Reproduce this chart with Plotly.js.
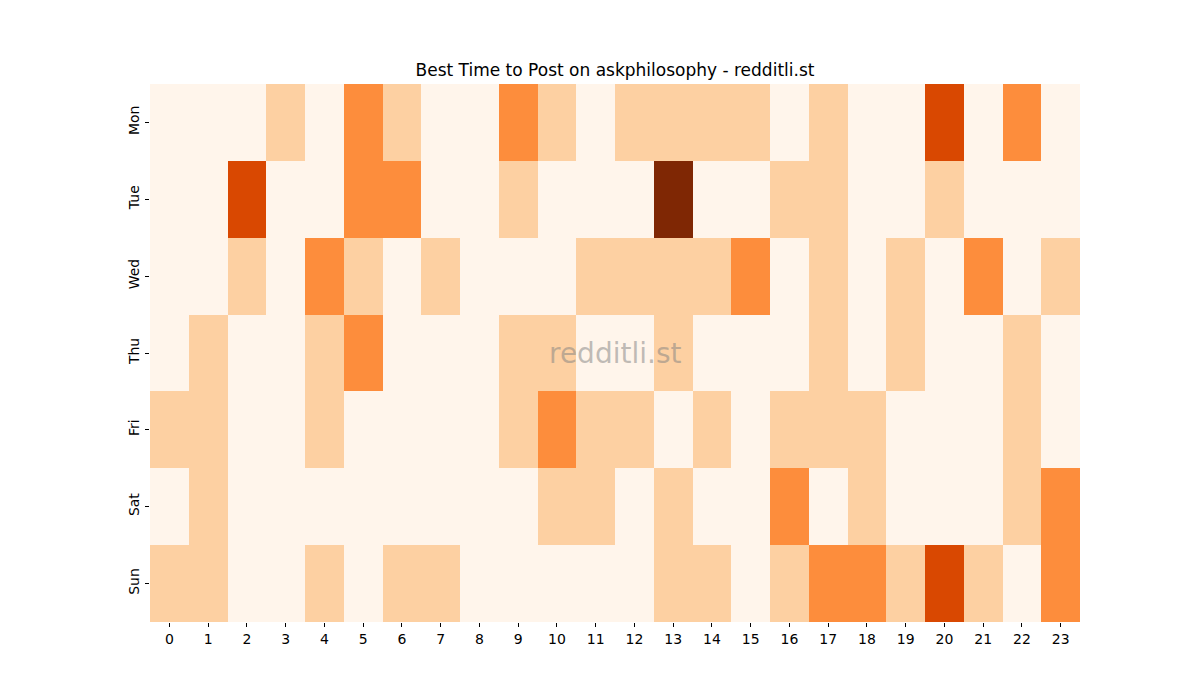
<!DOCTYPE html>
<html>
<head>
<meta charset="utf-8">
<script src="https://cdn.plot.ly/plotly-3.0.1.min.js"></script>
<style>body{margin:0;padding:0;background:#fff;}#chart{width:1200px;height:700px;}</style>
</head>
<body>
<div id="chart"></div>
<script>
const hours = [0,1,2,3,4,5,6,7,8,9,10,11,12,13,14,15,16,17,18,19,20,21,22,23];
const days = ["Mon","Tue","Wed","Thu","Fri","Sat","Sun"];
const mon = [0,0,0,1,0,2,1,0,0,2,1,0,1,1,1,1,0,1,0,0,3,0,2,0];
const tue = [0,0,3,0,0,2,2,0,0,1,0,0,0,4,0,0,1,1,0,0,1,0,0,0];
const wed = [0,0,1,0,2,1,0,1,0,0,0,1,1,1,1,2,0,1,0,1,0,2,0,1];
const thu = [0,1,0,0,1,2,0,0,0,1,1,0,0,1,0,0,0,1,0,1,0,0,1,0];
const fri = [1,1,0,0,1,0,0,0,0,1,2,1,1,0,1,0,1,1,1,0,0,0,1,0];
const sat = [0,1,0,0,0,0,0,0,0,0,1,1,0,1,0,0,2,0,1,0,0,0,1,2];
const sun = [1,1,0,0,1,0,1,1,0,0,0,0,0,1,1,0,1,2,2,1,3,1,0,2];

const z = [mon, tue, wed, thu, fri, sat, sun];

const trace = {
  type: 'heatmap',
  x: hours,
  y: days,
  z: z,
  zmin: 0,
  zmax: 4,
  colorscale: [
    [0, '#fff5eb'],
    [0.25, '#fdd0a2'],
    [0.5, '#fd8d3c'],
    [0.75, '#d94801'],
    [1, '#7f2704']
  ],
  showscale: false,
  xgap: 0, ygap: 0,
  hoverinfo: 'x+y+z'
};

const layout = {
  width: 1200,
  height: 700,
  margin: {l: 150, r: 120, t: 84, b: 78},
  paper_bgcolor: '#ffffff',
  plot_bgcolor: '#ffffff',
  font: {family: 'DejaVu Sans, sans-serif', size: 14, color: '#000'},
  title: {
    text: 'Best Time to Post on askphilosophy - redditli.st',
    font: {family: 'DejaVu Sans, sans-serif', size: 17, color: '#000'},
    x: 0.5, xref: 'paper',
    y: 1, yref: 'paper', yanchor: 'bottom',
    pad: {b: 8}
  },
  xaxis: {
    type: 'category',
    tickmode: 'array',
    tickvals: hours,
    ticktext: hours.map(String),
    ticks: 'outside', ticklen: 4, tickcolor: '#000', tickwidth: 1,
    showgrid: false, zeroline: false, showline: false,
    tickfont: {size: 14, color: '#000'}
  },
  yaxis: {
    type: 'category',
    autorange: 'reversed',
    ticks: 'outside', ticklen: 4, tickcolor: '#000', tickwidth: 1,
    tickangle: -90,
    showgrid: false, zeroline: false, showline: false,
    tickfont: {size: 14, color: '#000'}
  },
  annotations: [{
    text: 'redditli.st',
    xref: 'paper', yref: 'paper',
    x: 0.5, y: 0.5, xanchor: 'center', yanchor: 'middle',
    showarrow: false,
    font: {family: 'DejaVu Sans, sans-serif', size: 28, color: 'rgba(128,128,128,0.5)'}
  }]
};

Plotly.newPlot('chart', [trace], layout, {displayModeBar: false, staticPlot: true});
</script>
</body>
</html>
